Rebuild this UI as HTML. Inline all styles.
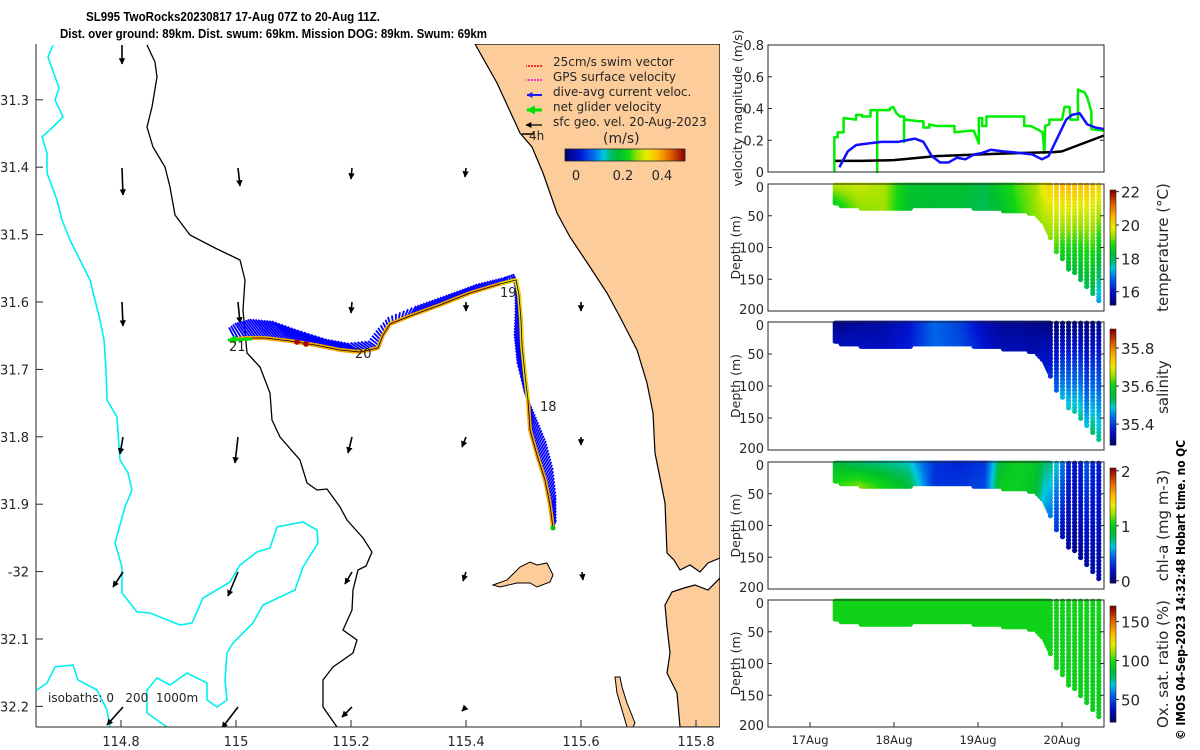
<!DOCTYPE html>
<html><head><meta charset="utf-8"><style>
html,body{margin:0;padding:0;background:#fff;}
svg{display:block;font-family:"DejaVu Sans","Liberation Sans",sans-serif;}
text{fill:#262626;}
</style></head><body>
<svg id="root" width="1200" height="750" viewBox="0 0 1200 750" xmlns="http://www.w3.org/2000/svg">
<g font-weight="bold" font-size="12.5" style="font-family:'Liberation Sans',sans-serif">
<text x="86" y="21" textLength="294" lengthAdjust="spacingAndGlyphs" style="fill:#000">SL995 TwoRocks20230817 17-Aug 07Z to 20-Aug 11Z.</text>
<text x="60" y="38" textLength="427" lengthAdjust="spacingAndGlyphs" style="fill:#000">Dist. over ground: 89km. Dist. swum: 69km. Mission DOG: 89km. Swum: 69km</text>
</g>
<defs><clipPath id="mapclip"><rect x="36" y="44" width="684" height="683"/></clipPath>
<marker id="ah" viewBox="0 0 10 10" refX="9" refY="5" markerWidth="4" markerHeight="4" orient="auto"><path d="M0,0L10,5L0,10z" fill="#000"/></marker>
<marker id="ahb" viewBox="0 0 10 10" refX="9" refY="5" markerWidth="3" markerHeight="3" orient="auto"><path d="M0,0L10,5L0,10z" fill="#1a1aff"/></marker>
<marker id="ahg" viewBox="0 0 10 10" refX="9" refY="5" markerWidth="3" markerHeight="3" orient="auto"><path d="M0,0L10,5L0,10z" fill="#00e000"/></marker>
</defs>
<g id="map" clip-path="url(#mapclip)">
<polygon fill="#fccc9a" stroke="#000" stroke-width="1.2" points="475,44 497,83 520,133 532,147 543,173 557,213 570,237 590,267 607,293 620,317 637,350 647,383 653,413 655,453 665,503 667,553 674,560 680,570 690,565 700,572 708,563 720,558 720,578 708,590 695,585 684,588 672,592 665,605 667,627 670,653 667,673 677,693 680,727 720,727 720,44"/>
<polygon fill="#fccc9a" stroke="#000" stroke-width="1" points="493,585 507,580 520,567 530,562 537,565 547,563 553,575 550,582 537,587 530,583 517,583 500,587"/>
<polygon fill="#fccc9a" stroke="#000" stroke-width="1" points="615,677 620,677 622,687 627,703 635,723 633,727 627,727 622,710 617,693"/>
<polyline fill="none" stroke="#000" stroke-width="1.3" points="147,45 155,62 157,77 152,107 147,127 153,147 165,167 170,187 175,215 190,235 215,248 240,260 245,280 243,310 247,353 260,367 270,393 272,420 280,437 300,460 307,483 317,490 327,489 340,507 347,520 363,538 372,552 366,566 358,570 353,590 352,610 343,630 357,640 353,653 333,667 323,680 323,707 337,727"/>
<polyline fill="none" stroke="#00f0f0" stroke-width="1.6" points="53,45 48,57 59,88 55,100 63,117 53,127 42,137 47,153 47,173 57,200 62,220 70,240 80,260 90,280 95,300 100,320 104,340 106,370 107,400 117,417 120,460 128,473 132,490 125,507 115,543 122,567 122,593 137,612 150,613 180,625 192,623 203,598 230,582 240,565 257,552 270,548 277,527 303,522 317,530 318,543 303,567 295,590 263,605 253,623 233,643 227,653 225,680 227,700 217,707 207,700 207,683 187,673 170,685 157,678 147,690 147,713 167,727"/>
<polyline fill="none" stroke="#00f0f0" stroke-width="1.6" points="37,690 47,683 55,667 73,665 78,680 97,690 107,710 110,727"/>
<g id="geo"></g>
<g id="track"></g>
</g>
<g id="mapaxes"></g>
<g font-size="12">
<line x1="542" y1="66" x2="526" y2="66" stroke="#f00" stroke-width="1.5" stroke-dasharray="2,1"/><text x="553" y="66">25cm/s swim vector</text>
<line x1="542" y1="80" x2="526" y2="80" stroke="#f0f" stroke-width="1.5" stroke-dasharray="2,1"/><text x="553" y="81">GPS surface velocity</text>
<line x1="542" y1="95" x2="527" y2="95" stroke="#1a1aff" stroke-width="2" marker-end="url(#ahb)"/><text x="553" y="96">dive-avg current veloc.</text>
<line x1="542" y1="110" x2="527" y2="110" stroke="#00e000" stroke-width="3" marker-end="url(#ahg)"/><text x="553" y="111">net glider velocity</text>
<line x1="542" y1="125" x2="526" y2="125" stroke="#222" stroke-width="1.5" marker-end="url(#ah)"/><text x="553" y="126">sfc geo. vel. 20-Aug-2023</text>
<line x1="534" y1="134" x2="522" y2="134" stroke="#000" stroke-width="1.5"/><text x="529" y="140">4h</text>
<text x="603" y="143" font-size="14">(m/s)</text>
<g id="mapcb"></g>
<text x="576" y="180" text-anchor="middle" font-size="13">0</text>
<text x="623" y="180" text-anchor="middle" font-size="13">0.2</text>
<text x="662" y="180" text-anchor="middle" font-size="13">0.4</text>
</g>
<g id="vel"></g>
<g id="sec"></g>
<text transform="translate(1185,740) rotate(-90)" font-size="12" font-weight="bold" textLength="300" lengthAdjust="spacingAndGlyphs" style="fill:#000">© IMOS 04-Sep-2023 14:32:48 Hobart time. no QC</text>
</svg>
<script>
// ---- velocity series data ----
const greenT=[17.29,17.29,17.33,17.33,17.40,17.40,17.55,17.55,17.62,17.62,17.72,17.72,17.80,17.80,17.80,17.95,17.95,17.99,18.03,18.07,18.12,18.12,18.12,18.30,18.35,18.35,18.42,18.42,18.50,18.72,18.72,18.90,18.95,19.01,19.01,19.05,19.05,19.10,19.10,19.55,19.55,19.63,19.70,19.77,19.79,19.80,19.85,19.85,20.00,20.03,20.09,20.10,20.15,20.19,20.19,20.27,20.30,20.35,20.35,20.50];
const greenV=[0,0.22,0.22,0.25,0.25,0.34,0.33,0.36,0.36,0.35,0.35,0.39,0.39,0,0.39,0.39,0.40,0.41,0.37,0.35,0.35,0.19,0.33,0.32,0.32,0.28,0.28,0.30,0.29,0.29,0.25,0.26,0.26,0.18,0.34,0.34,0.29,0.29,0.35,0.35,0.29,0.29,0.27,0.25,0.12,0.29,0.30,0.33,0.33,0.41,0.41,0.33,0.33,0.33,0.52,0.50,0.47,0.38,0.27,0.26];
const blueT=[17.35,17.45,17.55,17.70,17.85,17.95,18.05,18.15,18.25,18.35,18.45,18.55,18.65,18.75,18.85,18.95,19.05,19.15,19.30,19.50,19.65,19.76,19.84,19.95,20.05,20.12,20.21,20.30,20.40,20.50];
const blueV=[0.03,0.13,0.17,0.18,0.19,0.19,0.19,0.20,0.21,0.19,0.10,0.06,0.06,0.09,0.08,0.11,0.12,0.14,0.13,0.12,0.11,0.08,0.10,0.22,0.33,0.36,0.37,0.30,0.28,0.27];
const blackT=[17.30,17.60,18.00,18.50,19.00,19.50,19.90,20.00,20.20,20.50];
const blackV=[0.07,0.07,0.075,0.10,0.11,0.12,0.125,0.13,0.17,0.23];
const velTicks=[0,0.2,0.4,0.6,0.8];
const dateTicks=[17,18,19,20];
const dateLabels=["17Aug","18Aug","19Aug","20Aug"];
// ---- section data ----
const depthT=[17.3,17.6,17.9,18.2,18.5,18.8,19.1,19.3,19.5,19.7,19.8,19.9,20.0,20.1,20.2,20.3,20.4,20.5];
const depthMax=[33,38,40,38,36,36,40,42,42,50,65,100,120,140,150,165,180,192];
const tempTop=[19.6,19.7,19.5,18.4,18.3,18.3,18.1,18.6,19.1,19.4,20.0,20.3,20.5,20.5,20.4,20.4,20.3,20.2];
const tempBot=[18.6,19.3,19.4,18.3,18.2,18.2,18.0,18.3,18.9,19.3,19.4,19.2,18.5,18.2,18.0,18.0,17.9,16.0];
const salTop=[35.31,35.32,35.33,35.36,35.43,35.40,35.34,35.32,35.32,35.31,35.31,35.30,35.30,35.30,35.31,35.30,35.31,35.33];
const salBot=[35.34,35.35,35.35,35.37,35.43,35.41,35.36,35.34,35.34,35.34,35.36,35.40,35.48,35.50,35.52,35.48,35.55,35.45];
const chlTop=[0.85,0.75,0.7,0.65,0.3,0.25,0.3,0.9,1.0,0.95,0.8,0.7,0.5,0.2,0.2,0.4,0.2,0.3];
const chlBot=[1.05,1.2,1.05,0.85,0.3,0.3,0.35,1.0,1.0,0.9,0.6,0.4,0.15,0.05,0.05,0.1,0.1,0.1];
const oxTop=[98,98,98,98,98,98,98,98,98,98,98,98,98,98,98,98,98,98];
const oxBot=[97,97,97,97,97,97,97,97,97,97,97,97,97,96,96,95,95,93];
</script>
<script>
const NS="http://www.w3.org/2000/svg";
function mk(tag,attrs,parent){const e=document.createElementNS(NS,tag);for(const k in attrs)e.setAttribute(k,attrs[k]);parent.appendChild(e);return e;}
const stops=[[0,[0,0,110]],[0.12,[0,20,210]],[0.24,[0,110,235]],[0.32,[0,200,225]],[0.38,[0,190,110]],[0.44,[0,190,50]],[0.53,[20,215,20]],[0.6,[150,225,0]],[0.68,[235,235,0]],[0.77,[255,185,0]],[0.88,[225,100,0]],[1,[140,0,0]]];
function cmap(f){f=Math.max(0,Math.min(1,f));for(let i=1;i<stops.length;i++){if(f<=stops[i][0]){const a=stops[i-1],b=stops[i];const u=(f-a[0])/(b[0]-a[0]);const c=a[1].map((v,j)=>Math.round(v+(b[1][j]-v)*u));return`rgb(${c[0]},${c[1]},${c[2]})`;}}return"rgb(140,0,0)";}
function interp(xs,ys,x){if(x<=xs[0])return ys[0];for(let i=1;i<xs.length;i++){if(x<=xs[i]){const u=(x-xs[i-1])/(xs[i]-xs[i-1]);return ys[i-1]+(ys[i]-ys[i-1])*u;}}return ys[ys.length-1];}

// ---- map axes ----
const lonX=l=>236+(l-115)*575, latY=l=>302+(l-31.6)*674;
const ma=document.getElementById('mapaxes');
let l=mk('line',{x1:36,y1:727,x2:720,y2:727,stroke:'#262626'},ma);


l=mk('line',{x1:36,y1:44,x2:36,y2:727,stroke:'#262626'},ma);


[114.8,115,115.2,115.4,115.6,115.8].forEach(v=>{const x=lonX(v);mk('line',{x1:x,y1:727,x2:x,y2:720,stroke:'#262626'},ma);
 const t=mk('text',{x:x,y:746,'text-anchor':'middle','font-size':13},ma);t.textContent=(v===115?'115':v.toFixed(1));
 
 });
[31.3,31.4,31.5,31.6,31.7,31.8,31.9,32,32.1,32.2].forEach(v=>{const y=latY(v);mk('line',{x1:36,y1:y,x2:43,y2:y,stroke:'#262626'},ma);
 const t=mk('text',{x:29,y:y+5,'text-anchor':'end','font-size':13},ma);t.textContent=(v===32?'-32':v.toFixed(1));
 
 });
let it=mk('text',{x:48,y:702,'font-size':12},ma);it.textContent='isobaths: 0\u00a0\u00a0\u00a0200\u00a0\u00a01000m';



// ---- geostrophic arrows ----
const geoBase=[[122,45],[122,168],[238,168],[352,168],[466,168],[122,302],[238,302],[352,302],[466,302],[581,302],[123,437],[238,437],[352,437],[466,437],[581,437],[123,572],[238,572],[352,572],[466,572],[582,572],[123,707],[238,707],[352,707],[466,707]];
const geoVec=[[0,19],[1,27],[2,18],[-1,11],[-1,9],[1,24],[2,21],[-1,11],[0,9],[0,9],[-3,17],[-3,26],[-4,16],[-4,10],[0,8],[-10,15],[-10,24],[-7,12],[-3,9],[1,8],[-16,18],[-16,21],[-10,10],[-4,4]];
const geo=document.getElementById('geo');
geoBase.forEach((b,i)=>{const v=geoVec[i];const a=mk('line',{x1:b[0],y1:b[1],x2:b[0]+v[0],y2:b[1]+v[1],stroke:'#000','stroke-width':1.6,'marker-end':'url(#ah)'},geo);
 
 });

// ---- track ----
const trackPts=[[553,528],[550,505],[545,480],[537,455],[530,430],[528,400],[525,375],[522,345],[521,320],[519,295],[516,280],[500,284],[470,293],[440,305],[410,316],[390,324],[383,335],[378,348],[360,352],[340,350],[315,345],[290,341],[265,338],[245,338],[232,340]];
const trackVec=[[3,-8],[6,-10],[8,-12],[9,-14],[6,-13],[-4,-10],[-8,-13],[-8,-11],[-6,-9],[-4,-7],[-3,-6],[5,-7],[7,-9],[7,-10],[6,-10],[-2,-7],[-5,-7],[-10,-7],[-13,-9],[-15,-11],[-18,-15],[-18,-20],[-15,-19],[-10,-15],[-5,-11]];
const tr=document.getElementById('track');
for(let i=1;i<trackPts.length;i++){const a=trackPts[i-1],b=trackPts[i];const L=Math.hypot(b[0]-a[0],b[1]-a[1]);const n=Math.max(1,Math.round(L/3));
 for(let k=0;k<n;k++){const u=k/n;const x=a[0]+(b[0]-a[0])*u,y=a[1]+(b[1]-a[1])*u;const vx=trackVec[i-1][0]+(trackVec[i][0]-trackVec[i-1][0])*u,vy=trackVec[i-1][1]+(trackVec[i][1]-trackVec[i-1][1])*u;
 const s=mk('line',{x1:x,y1:y,x2:x+vx,y2:y+vy,stroke:'#0000ff','stroke-width':1.8},tr);
 
 }}
const ptsStr=trackPts.map(p=>p.join(',')).join(' ');
let p=mk('polyline',{points:ptsStr,fill:'none',stroke:'#f5a800','stroke-width':4,'stroke-linejoin':'round'},tr);


p=mk('polyline',{points:trackPts.slice(5,12).map(p=>p.join(',')).join(' '),fill:'none',stroke:'#e8e800','stroke-width':3},tr);


p=mk('polyline',{points:ptsStr,fill:'none',stroke:'#000','stroke-width':0.8},tr);


[[297,342],[306,344]].forEach(c=>{const d=mk('circle',{cx:c[0],cy:c[1],r:2.8,fill:'#b00000'},tr);
 
 });
p=mk('line',{x1:252,y1:339,x2:228,y2:340,stroke:'#00e000','stroke-width':3,'marker-end':'url(#ahg)'},tr);


p=mk('circle',{cx:553,cy:528,r:2.5,fill:'#00c000'},tr);


[["18",540,411],["19",500,297],["20",355,358],["21",229,351]].forEach(d=>{const t=mk('text',{x:d[1],y:d[2],'font-size':13},tr);t.textContent=d[0];
 
 });

// map colorbar
const mcb=document.getElementById('mapcb');
for(let i=0;i<120;i++){mk('rect',{x:565+i,y:149,width:1.2,height:12,fill:cmap(i/119)},mcb);}
mk('rect',{x:565,y:149,width:120,height:12,fill:'none',stroke:'#262626','stroke-width':0.8},mcb);

// ---- velocity panel ----
const X0=768,X1=1104;const dayX=d=>810+(d-17)*84;
const vel=document.getElementById('vel');
const vy=v=>172-v*158.75;
function series(T,V,col,w,name){const pl=mk('polyline',{points:T.map((t,i)=>dayX(t)+','+vy(V[i])).join(' '),fill:'none',stroke:col,'stroke-width':w,'stroke-linejoin':'round'},vel);
 
 }
series(greenT,greenV,'#00ee00',2.5,'net-glider-velocity-line');
series(blackT,blackV,'#000',2.5,'geostrophic-velocity-line');
series(blueT,blueV,'#1010ff',2.5,'dive-avg-current-line');
mk('rect',{x:X0,y:45,width:X1-X0,height:127,fill:'none',stroke:'#262626','stroke-width':1},vel);
velTicks.forEach(v=>{const y=vy(v);mk('line',{x1:X0,y1:y,x2:X0+4,y2:y,stroke:'#262626'},vel);mk('line',{x1:X1,y1:y,x2:X1-4,y2:y,stroke:'#262626'},vel);
 const t=mk('text',{x:764,y:y+5,'text-anchor':'end','font-size':13},vel);t.textContent=(v===0?'0':v.toFixed(1));
 
 });
let vl=mk('text',{transform:'translate(742,108) rotate(-90)','text-anchor':'middle','font-size':12.5},vel);vl.textContent='velocity magnitude (m/s)';



// ---- section panels ----
const sec=document.getElementById('sec');
const panels=[
 {top:184,bot:311,top_:tempTop,bot_:tempBot,vmin:15.2,vmax:22.1,cb:[190,305],ticks:[16,18,20,22],lab:'temperature (°C)',name:'temperature'},
 {top:322,bot:450,top_:salTop,bot_:salBot,vmin:35.29,vmax:35.9,cb:[329,445],ticks:[35.4,35.6,35.8],lab:'salinity',name:'salinity'},
 {top:462,bot:589,top_:chlTop,bot_:chlBot,vmin:-0.04,vmax:2.05,cb:[468,583],ticks:[0,1,2],lab:'chl-a (mg m-3)',name:'chlorophyll'},
 {top:600,bot:727,top_:oxTop,bot_:oxBot,vmin:21,vmax:170,cb:[606,722],ticks:[50,100,150],lab:'Ox. sat. ratio (%)',name:'oxygen'}];
panels.forEach((P,pi)=>{
 const g=mk('g',{},sec);
 
 
 const dy=z=>P.top+z*(P.bot-P.top)/200;
 for(let t=17.3;t<=20.5;){
  const md=interp(depthT,depthMax,t);const deep=t>19.85;const step=deep?5.5:4;
  for(let z=2;z<=md;z+=step){const f=z/md;const v=interp(depthT,P.top_,t)*(1-f)+interp(depthT,P.bot_,t)*f;
   mk('circle',{cx:dayX(t),cy:dy(z),r:2.6,fill:cmap((v-P.vmin)/(P.vmax-P.vmin))},g);}
  t+=deep?0.072:0.014;}
 mk('rect',{x:X0,y:P.top,width:X1-X0,height:P.bot-P.top,fill:'none',stroke:'#262626','stroke-width':1},g);
 [0,50,100,150,200].forEach(z=>{const y=dy(z);mk('line',{x1:X0,y1:y,x2:X0+4,y2:y,stroke:'#262626'},g);mk('line',{x1:X1,y1:y,x2:X1-4,y2:y,stroke:'#262626'},g);
  const t=mk('text',{x:764,y:y+(z===0?8:(z===200?3:5)),'text-anchor':'end','font-size':13},g);t.textContent=z;
  
  });
 const yl=mk('text',{transform:`translate(740,${(P.top+P.bot)/2}) rotate(-90)`,'text-anchor':'middle','font-size':12.5},g);yl.textContent='Depth (m)';
 
 
 const h=P.cb[1]-P.cb[0];
 for(let i=0;i<60;i++){mk('rect',{x:1110,y:P.cb[1]-(i+1)*h/60,width:6,height:h/60+0.5,fill:cmap(i/59)},g);}
 mk('rect',{x:1110,y:P.cb[0],width:6,height:h,fill:'none',stroke:'#262626','stroke-width':0.6},g);
 P.ticks.forEach(v=>{const y=P.cb[1]-(v-P.vmin)/(P.vmax-P.vmin)*h;mk('line',{x1:1116,y1:y,x2:1119,y2:y,stroke:'#262626'},g);
  const t=mk('text',{x:1121,y:y+6,'font-size':15},g);t.textContent=v;
  
  });
 const cl=mk('text',{transform:`translate(1168,${(P.cb[0]+P.cb[1])/2}) rotate(-90)`,'text-anchor':'middle','font-size':15},g);cl.textContent=P.lab;
 
 
 if(pi===3){dateTicks.forEach((d,i)=>{const x=dayX(d);mk('line',{x1:x,y1:727,x2:x,y2:722,stroke:'#262626'},g);
  const t=mk('text',{x:x,y:744,'text-anchor':'middle','font-size':11.5},g);t.textContent=dateLabels[i];
  
  });}
});
</script>
</body></html>
